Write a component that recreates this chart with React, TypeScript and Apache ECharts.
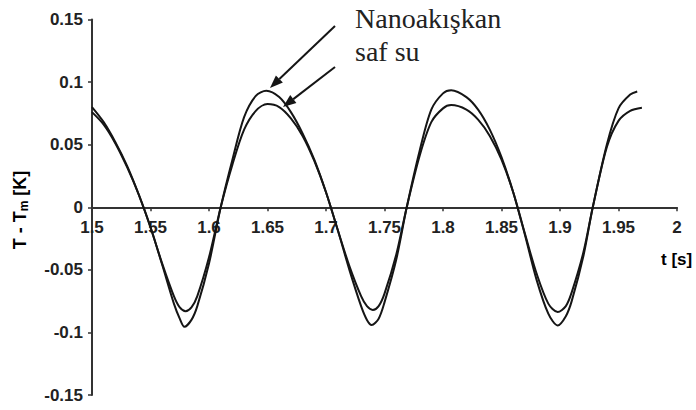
import React, { useEffect, useRef } from "react";
import * as echarts from "echarts";

// Temperature oscillation T - Tm [K] over time t [s]
const nanoTime = [
  1.5, 1.51, 1.52, 1.53, 1.54, 1.55, 1.56, 1.57, 1.575, 1.579, 1.585, 1.59, 1.6, 1.61,
  1.62, 1.63, 1.64, 1.649, 1.66, 1.67, 1.68, 1.69, 1.7, 1.71, 1.72, 1.73, 1.735, 1.739,
  1.745, 1.75, 1.76, 1.769, 1.78, 1.79, 1.8, 1.807, 1.82, 1.83, 1.84, 1.85, 1.86, 1.87,
  1.88, 1.89, 1.898, 1.905, 1.91, 1.92, 1.928, 1.94, 1.95, 1.96, 1.966,
];
const nanoTemp = [
  0.08, 0.068, 0.052, 0.033, 0.01, -0.016, -0.046, -0.077, -0.089, -0.0955, -0.09, -0.079, -0.045, 0.0,
  0.038, 0.072, 0.089, 0.093, 0.088, 0.076, 0.059, 0.038, 0.012, -0.018, -0.05, -0.079, -0.09, -0.094,
  -0.089, -0.076, -0.042, 0.0, 0.045, 0.078, 0.091, 0.0935, 0.088, 0.078, 0.062, 0.04, 0.012, -0.022,
  -0.058, -0.085, -0.0944, -0.087, -0.075, -0.039, 0.0, 0.05, 0.079, 0.09, 0.0925,
];

const waterTime = [
  1.5, 1.51, 1.52, 1.53, 1.54, 1.55, 1.56, 1.57, 1.575, 1.58, 1.585, 1.59, 1.6, 1.61,
  1.62, 1.63, 1.64, 1.65, 1.66, 1.67, 1.68, 1.69, 1.7, 1.71, 1.72, 1.73, 1.735, 1.74,
  1.745, 1.75, 1.76, 1.769, 1.78, 1.79, 1.8, 1.807, 1.82, 1.83, 1.84, 1.85, 1.86, 1.87,
  1.88, 1.89, 1.898, 1.905, 1.91, 1.92, 1.928, 1.94, 1.95, 1.96, 1.97,
];
const waterTemp = [
  0.076, 0.066, 0.051, 0.032, 0.01, -0.016, -0.045, -0.071, -0.08, -0.083, -0.08, -0.071, -0.04, 0.0,
  0.034, 0.062, 0.077, 0.0824, 0.08, 0.071, 0.057, 0.037, 0.012, -0.018, -0.047, -0.071, -0.079, -0.082,
  -0.079, -0.069, -0.038, 0.0, 0.041, 0.068, 0.079, 0.0816, 0.078, 0.07, 0.057, 0.038, 0.012, -0.021,
  -0.053, -0.077, -0.0837, -0.079, -0.068, -0.036, 0.0, 0.048, 0.069, 0.077, 0.0795,
];

const seriesNames = ["Nanoakışkan", "saf su"];
const xTitle = "t [s]";

const pairs = (xs: number[], ys: number[]) => xs.map((x, i) => [x, ys[i]]);
const fmt = (v: number) => String(parseFloat(v.toFixed(2)));

const tickFont = {
  fontFamily: "Liberation Sans, Arial, sans-serif",
  fontWeight: "bold" as const,
  fontSize: 17,
  color: "#222",
};

const GRID = { left: 92, right: 19, top: 19.5, bottom: 15 };
const HEIGHT = 410;

export default function App() {
  const ref = useRef<HTMLDivElement>(null);

  useEffect(() => {
    if (!ref.current) return;
    const chart = echarts.init(ref.current, null, { renderer: "svg" });

    const lineStyle = { color: "#151515", width: 2 };
    const axisLine = { lineStyle: { color: "#333", width: 2 } };
    // x axis sits on the zero line, halfway up the symmetric y range
    const plotHeight = HEIGHT - GRID.top - GRID.bottom;
    const xOffset = -plotHeight / 2;

    chart.setOption({
      animation: false,
      backgroundColor: "#fff",
      grid: GRID,
      xAxis: {
        type: "value",
        min: 1.5,
        max: 2,
        interval: 0.05,
        offset: xOffset,
        axisLine: { onZero: false, ...axisLine },
        axisTick: { show: true, length: 4, lineStyle: { color: "#333", width: 1.5 } },
        axisLabel: { ...tickFont, margin: 12, showMinLabel: true, showMaxLabel: true, formatter: fmt },
        splitLine: { show: false },
      },
      yAxis: {
        type: "value",
        min: -0.15,
        max: 0.15,
        interval: 0.05,
        axisLine: { show: true, onZero: false, ...axisLine },
        axisTick: { show: true, length: 4, lineStyle: { color: "#333", width: 1.5 } },
        axisLabel: { ...tickFont, margin: 9, formatter: fmt },
        splitLine: { show: false },
      },
      series: [
        {
          name: seriesNames[0],
          type: "line",
          data: pairs(nanoTime, nanoTemp),
          showSymbol: false,
          smooth: 0.3,
          lineStyle,
        },
        {
          name: seriesNames[1],
          type: "line",
          data: pairs(waterTime, waterTemp),
          showSymbol: false,
          smooth: 0.3,
          lineStyle,
        },
      ],
      graphic: [
        {
          type: "text",
          x: 20,
          y: 210,
          rotation: Math.PI / 2,
          style: {
            text: "{n|T - T}{s|m}{n| [K]}",
            align: "center",
            verticalAlign: "middle",
            rich: {
              n: { ...tickFont, fontSize: 18, lineHeight: 20 },
              s: { ...tickFont, fontSize: 12, lineHeight: 20, verticalAlign: "bottom", padding: [6, 0, 0, 0] },
            },
          },
        },
        {
          type: "text",
          x: 661,
          y: 259,
          style: { text: xTitle, ...tickFont, align: "left", verticalAlign: "middle" },
        },
        {
          type: "text",
          x: 355,
          y: 18,
          style: {
            text: seriesNames[0],
            fontFamily: "Liberation Serif, Times New Roman, serif",
            fontSize: 28,
            fill: "#222",
            align: "left",
            verticalAlign: "middle",
          },
        },
        {
          type: "text",
          x: 355,
          y: 51,
          style: {
            text: seriesNames[1],
            fontFamily: "Liberation Serif, Times New Roman, serif",
            fontSize: 28,
            fill: "#222",
            align: "left",
            verticalAlign: "middle",
          },
        },
        // arrow pointing at the nanofluid curve
        {
          type: "line",
          shape: { x1: 335, y1: 26, x2: 279.4, y2: 79 },
          style: { stroke: "#151515", lineWidth: 2 },
        },
        {
          type: "polygon",
          shape: { points: [[270, 88], [282.9, 82.6], [275.9, 75.4]] },
          style: { fill: "#151515" },
        },
        // arrow pointing at the pure water curve
        {
          type: "line",
          shape: { x1: 335, y1: 67, x2: 293.3, y2: 99.1 },
          style: { stroke: "#151515", lineWidth: 2 },
        },
        {
          type: "polygon",
          shape: { points: [[283, 107], [296.4, 103.1], [290.2, 95.1]] },
          style: { fill: "#151515" },
        },
      ],
    });

    return () => chart.dispose();
  }, []);

  return (
    <div
      ref={ref}
      style={{ position: "fixed", left: 0, top: 0, width: 696, height: HEIGHT }}
    />
  );
}
